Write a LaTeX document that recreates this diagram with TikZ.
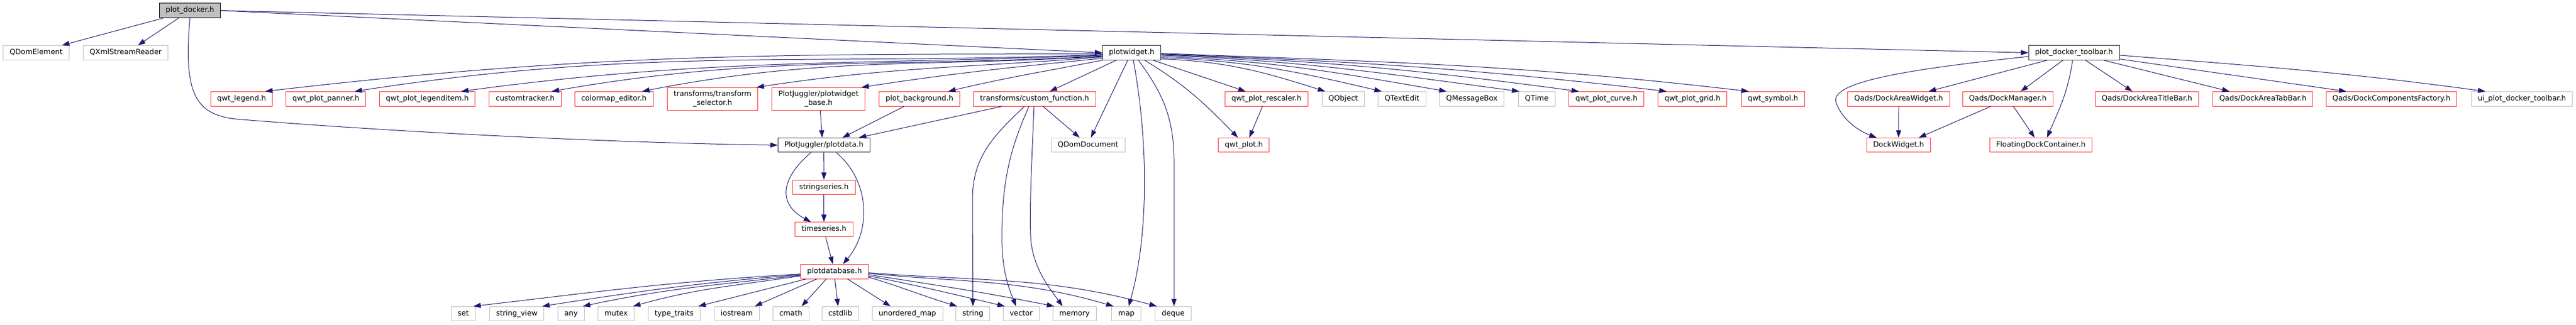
\documentclass[tikz,border=0pt]{standalone}
\usepackage{fontspec}
\setmainfont{DejaVu Sans}
\usetikzlibrary{arrows.meta}

\definecolor{edgeblue}{HTML}{191970}
\definecolor{grey75}{HTML}{BFBFBF}
\definecolor{truncred}{HTML}{FF3030}

\tikzset{
  file/.style={draw, rectangle, inner xsep=11.5pt, inner ysep=0pt, minimum height=25.6pt,
    text height=9.6pt, text depth=3.1pt, font=\fontsize{12.9}{15.4}\selectfont, line width=1pt},
  rootfile/.style={file, fill=grey75, draw=black},
  known/.style={file, draw=black!85},
  trunc/.style={file, draw=truncred},
  ext/.style={file, draw=grey75},
  twoline/.style={align=center, minimum height=40pt, text height=25pt},
  dep/.style={draw=edgeblue, line width=1pt, -{Triangle[length=13pt,width=9pt]}}
}

\begin{document}
\begin{tikzpicture}[x=1pt, y=-1.1pt]
\useasboundingbox (0,0) rectangle (4564,522.73);

% rank 0
\node[rootfile] (root) at (336.5,17) {plot\_docker.h};

% rank 1
\node[ext] (qdomel) at (64,85) {QDomElement};
\node[ext] (qxml) at (222.5,85) {QXmlStreamReader};
\node[known] (pw) at (2005,85) {plotwidget.h};
\node[known] (tb) at (3674.5,85) {plot\_docker\_toolbar.h};

% rank 2
\def\ry{159.3}
\node[trunc] (legend) at (428,\ry) {qwt\_legend.h};
\node[trunc] (panner) at (577.3,\ry) {qwt\_plot\_panner.h};
\node[trunc] (litem) at (757,\ry) {qwt\_plot\_legenditem.h};
\node[trunc] (ctrack) at (930.5,\ry) {customtracker.h};
\node[trunc] (cmap) at (1087.7,\ry) {colormap\_editor.h};
\node[trunc, twoline] (tsel) at (1262.5,\ry) {transforms/transform\\\_selector.h};
\node[trunc, twoline] (pwbase) at (1450.3,\ry) {PlotJuggler/plotwidget\\\_base.h};
\node[trunc] (pbg) at (1629,\ry) {plot\_background.h};
\node[trunc] (cfunc) at (1833,\ry) {transforms/custom\_function.h};
\node[trunc] (rescaler) at (2243.8,\ry) {qwt\_plot\_rescaler.h};
\node[ext] (qobject) at (2379.8,\ry) {QObject};
\node[ext] (qtext) at (2484,\ry) {QTextEdit};
\node[ext] (qmsg) at (2607.8,\ry) {QMessageBox};
\node[ext] (qtime) at (2722.7,\ry) {QTime};
\node[trunc] (qcurve) at (2846.3,\ry) {qwt\_plot\_curve.h};
\node[trunc] (qgrid) at (2998.7,\ry) {qwt\_plot\_grid.h};
\node[trunc] (qsymbol) at (3141.2,\ry) {qwt\_symbol.h};
\node[trunc] (daw) at (3364,\ry) {Qads/DockAreaWidget.h};
\node[trunc] (dm) at (3557.2,\ry) {Qads/DockManager.h};
\node[trunc] (datb) at (3804,\ry) {Qads/DockAreaTitleBar.h};
\node[trunc] (datab) at (4009.2,\ry) {Qads/DockAreaTabBar.h};
\node[trunc] (dcf) at (4237,\ry) {Qads/DockComponentsFactory.h};
\node[ext] (ui) at (4468.2,\ry) {ui\_plot\_docker\_toolbar.h};

% rank 3
\node[known] (pd) at (1459.7,233.8) {PlotJuggler/plotdata.h};
\node[ext] (qdomdoc) at (1927.8,233.8) {QDomDocument};
\node[trunc] (qplot) at (2203.8,233.8) {qwt\_plot.h};
\node[trunc] (dw) at (3363.8,233.8) {DockWidget.h};
\node[trunc] (fdc) at (3615.8,233.8) {FloatingDockContainer.h};

% ranks 4 to 6
\node[trunc] (ss) at (1459.8,301.8) {stringseries.h};
\node[trunc] (ts) at (1459.8,369.7) {timeseries.h};
\node[trunc] (pdb) at (1478.5,437.5) {plotdatabase.h};

% rank 7
\def\by{505.5}
\node[ext] (set) at (820.8,\by) {set};
\node[ext] (sview) at (915.7,\by) {string\_view};
\node[ext] (any) at (1011.8,\by) {any};
\node[ext] (mutex) at (1091.7,\by) {mutex};
\node[ext] (ttraits) at (1194.3,\by) {type\_traits};
\node[ext] (iostream) at (1305.2,\by) {iostream};
\node[ext] (cmath) at (1401.2,\by) {cmath};
\node[ext] (cstdlib) at (1488.8,\by) {cstdlib};
\node[ext] (umap) at (1607.8,\by) {unordered\_map};
\node[ext] (string) at (1723.7,\by) {string};
\node[ext] (vector) at (1809.2,\by) {vector};
\node[ext] (memory) at (1903.7,\by) {memory};
\node[ext] (map) at (1995.8,\by) {map};
\node[ext] (deque) at (2078.5,\by) {deque};

% plot_docker.h
\draw[dep] ([xshift=-47pt]root.south) -- ([xshift=46pt]qdomel.north);
\draw[dep] ([xshift=-20pt]root.south) -- ([xshift=22pt]qxml.north);
\draw[dep] (root.east) -- (pw.west);
\draw[dep] (root.east) -- (tb.west);
\draw[dep] (root.south) .. controls (325,150) and (345,185) .. (420,192) .. controls (800,220) and (1200,232) .. (pd.west);

% plotwidget.h
\foreach \nd/\dy/\cx/\cy/\ex/\ey/\dx in {legend/2.2/-580/0/577/-61/42, panner/3.3/-518/18/513/-72/51,
    litem/4.4/-445/16/442/-54/60, ctrack/5.5/-381/20/377/-60/47, cmap/6.6/-320/17/315/-56/50,
    tsel/7.7/-239/17/238/-33/78, pwbase/9.9/-167/15/166/-23/76}
  \draw[dep] ([yshift=-\dy pt]pw.west) .. controls +(\cx,\cy) and +(\ex,\ey) .. ([xshift=\dx pt]\nd.north);
\draw[dep] (pw.south west) .. controls +(-107,19) and +(107,-23) .. ([xshift=51pt]pbg.north);
\draw[dep] ([xshift=25pt]pw.south west) -- ([xshift=27pt]cfunc.north);
\draw[dep] ([xshift=-7pt]pw.south) -- ([xshift=5pt]qdomdoc.north);
\draw[dep] ([xshift=3pt]pw.south) .. controls (2035,230) and (2035,380) .. ([xshift=4pt]map.north);
\draw[dep] ([xshift=12pt]pw.south) .. controls (2060,150) and (2080,190) .. (2080,260) -- ([xshift=1.5pt]deque.north);
\draw[dep] ([xshift=23pt]pw.south) .. controls +(71,39) and +(-59,-55) .. ([xshift=-10.5pt]qplot.north);
\draw[dep] ([xshift=38pt]pw.south) -- ([xshift=-37pt]rescaler.north);
\foreach \nd/\dy/\cx/\cy/\ex/\ey/\dx in {qobject/11/116/4/-111/-32/-32, qtext/8.8/154/5/-151/-32/-36,
    qmsg/6.6/199/7/-197/-31/-45, qtime/4.4/249/9/-247/-30/-31, qcurve/3.3/290/10/-288/-35/-49,
    qgrid/2.2/351/12/-349/-37/-46, qsymbol/1.1/408/14/-406/-43/-43}
  \draw[dep] ([yshift=-\dy pt]pw.east) .. controls +(\cx,\cy) and +(\ex,\ey) .. ([xshift=\dx pt]\nd.north);
\draw[dep] ([xshift=-7pt]rescaler.south) -- ([xshift=9.5pt]qplot.north);

% plot_docker_toolbar.h
\draw[dep] ([yshift=-6.6pt]tb.west) .. controls (3400,110) and (3240,130) .. (3253,165) .. controls (3262,190) and (3290,210) .. ([xshift=-39pt]dw.north);
\draw[dep] ([xshift=-47.5pt]tb.south) -- ([xshift=53pt]daw.north);
\draw[dep] ([xshift=-19.5pt]tb.south) -- ([xshift=23pt]dm.north);
\draw[dep] ([xshift=-2.5pt]tb.south) .. controls +(-8,51) and +(22,-47) .. ([xshift=11pt]fdc.north);
\draw[dep] ([xshift=20.5pt]tb.south) -- ([xshift=-26pt]datb.north);
\draw[dep] ([xshift=52.5pt]tb.south) -- ([xshift=-59pt]datab.north);
\draw[dep] ([yshift=2.2pt]tb.south east) -- ([xshift=-80pt]dcf.north);
\draw[dep] ([yshift=-4.4pt]tb.east) .. controls +(253,18) and +(-252,-31) .. ([xshift=-65pt]ui.north);
\draw[dep] (daw.south) -- (dw.north);
\draw[dep] ([xshift=-30pt]dm.south) -- ([xshift=36pt]dw.north);
\draw[dep] ([xshift=10pt]dm.south) -- ([xshift=-11pt]fdc.north);

% PlotJuggler/plotdata.h
\draw[dep] ([xshift=3pt]pwbase.south) -- ([xshift=-3pt]pd.north);
\draw[dep] ([xshift=-27pt]pbg.south) -- ([xshift=33pt]pd.north);
\draw[dep] ([xshift=-58pt]cfunc.south) -- ([xshift=62pt]pd.north);
\draw[dep] ([xshift=15pt]cfunc.south) -- ([xshift=-15pt]qdomdoc.north);
\draw[dep] ([xshift=-18pt]cfunc.south) .. controls (1765,215) and (1723,250) .. (1723,320) -- (string.north);
\draw[dep] ([xshift=-10pt]cfunc.south) .. controls (1795,230) and (1775,280) .. (1775,383) .. controls (1775,440) and (1790,470) .. ([xshift=-9pt]vector.north);
\draw[dep] ([xshift=-1pt]cfunc.south) .. controls (1828,260) and (1824,330) .. (1826,380) .. controls (1828,430) and (1860,465) .. ([xshift=-21pt]memory.north);
\draw[dep] (pd.south) -- (ss.north);
\draw[dep] ([xshift=-23pt]pd.south) .. controls (1380,290) and (1380,330) .. ([xshift=-23pt]ts.north);
\draw[dep] ([xshift=22pt]pd.south) .. controls (1540,290) and (1545,370) .. ([xshift=15pt]pdb.north);
\draw[dep] (ss.south) -- (ts.north);
\draw[dep] ([xshift=3pt]ts.south) -- ([xshift=-3pt]pdb.north);

% plotdatabase.h
\foreach \nd/\dy/\cx/\cy/\ex/\ey/\dx in {set/4.4/-228/12/227/-24/18, sview/5.5/-180/13/178/-25/45,
    any/6.6/-151/16/149/-29/21, mutex/7.7/-117/16/114/-29/30}
  \draw[dep] ([yshift=-\dy pt]pdb.west) .. controls +(\cx,\cy) and +(\ex,\ey) .. ([xshift=\dx pt]\nd.north);
\foreach \nd/\sx/\dx in {ttraits/10/43, iostream/29/32, cmath/46/19, cstdlib/61/-4}
  \draw[dep] ([xshift=\sx pt]pdb.south west) -- ([xshift=\dx pt]\nd.north);
\draw[dep] ([xshift=23pt]pdb.south) -- ([xshift=-30pt]umap.north);
\foreach \nd/\dy/\cx/\cy/\ex/\ey/\dx in {string/9.9/62/17/-62/-17/-28, vector/7.7/95/17/-94/-20/-29,
    memory/5.5/129/18/-128/-23/-36, map/3.3/170/15/-165/-44/-23, deque/2.2/200/14/-194/-48/-29}
  \draw[dep] ([yshift=-\dy pt]pdb.east) .. controls +(\cx,\cy) and +(\ex,\ey) .. ([xshift=\dx pt]\nd.north);

\end{tikzpicture}
\end{document}
